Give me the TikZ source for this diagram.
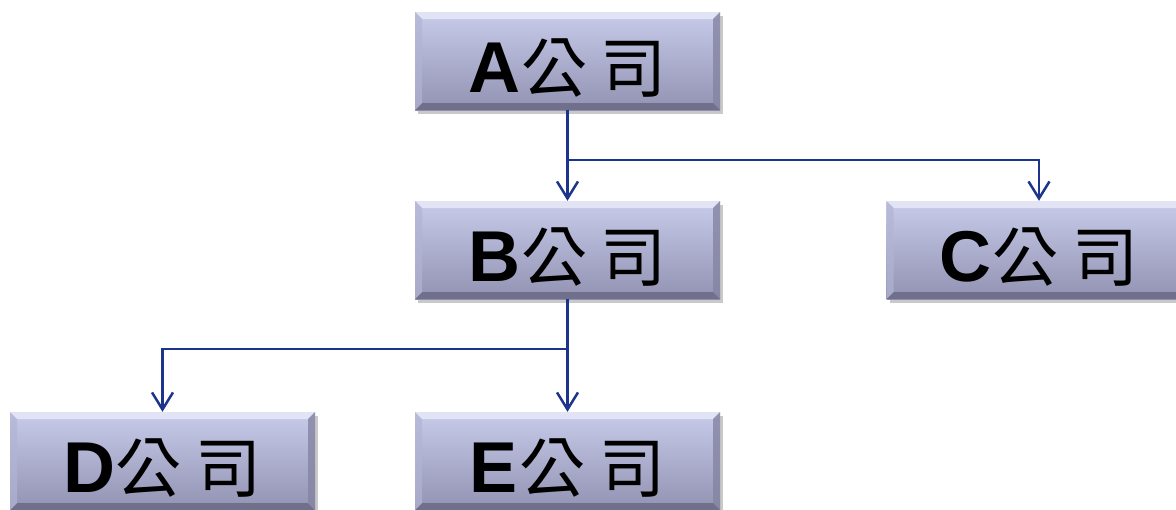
\documentclass[tikz,border=0pt]{standalone}
\usepackage{fontspec}
\setmainfont{Liberation Sans}
\newfontfamily\cjk{Noto Sans CJK TC}
\usetikzlibrary{arrows.meta,shadows}
\definecolor{linkblue}{RGB}{28,52,140}
\definecolor{boxtop}{RGB}{200,203,234}
\definecolor{boxbot}{RGB}{146,146,178}
\definecolor{bevtop}{RGB}{226,228,245}
\definecolor{bevbot}{RGB}{112,112,140}
\definecolor{bevleft}{RGB}{178,180,212}
\definecolor{bevright}{RGB}{132,132,162}
\tikzset{
  company/.style={rectangle, minimum width=305pt, minimum height=98pt, inner sep=0pt,
    text height=62pt, text depth=0pt,
    top color=boxtop, bottom color=boxbot,
    drop shadow={shadow xshift=3pt, shadow yshift=-4pt, opacity=0.3, fill=black!70},
    path picture={
      \path (path picture bounding box.north west) coordinate (pnw)
            (path picture bounding box.north east) coordinate (pne)
            (path picture bounding box.south west) coordinate (psw)
            (path picture bounding box.south east) coordinate (pse);
      \fill[bevtop] (pnw) -- (pne) -- ([shift={(-7pt,-7pt)}]pne) -- ([shift={(7pt,-7pt)}]pnw) -- cycle;
      \fill[bevbot] (psw) -- (pse) -- ([shift={(-7pt,7pt)}]pse) -- ([shift={(7pt,7pt)}]psw) -- cycle;
      \fill[bevleft, opacity=0.7] (pnw) -- ([shift={(7pt,-7pt)}]pnw) -- ([shift={(7pt,7pt)}]psw) -- (psw) -- cycle;
      \fill[bevright, opacity=0.8] (pne) -- ([shift={(-7pt,-7pt)}]pne) -- ([shift={(-7pt,7pt)}]pse) -- (pse) -- cycle;
    }},
  link/.style={draw=linkblue, line width=2.5pt},
  arrowlink/.style={link, -{Straight Barb[length=17pt, width=21pt, line width=2.5pt]}},
}
\newcommand{\cname}[1]{\fontsize{72}{72}\selectfont\bfseries #1\cjk\mdseries\fontsize{66}{66}\selectfont\hspace{1pt}公\hspace{14pt}司\hspace{12pt}}
\begin{document}
\begin{tikzpicture}[x=1pt,y=-1pt]
\useasboundingbox (0,0) rectangle (1176,509);
\clip (0,0) rectangle (1176,509);
\node[company] (A) at (567.5,61) {\cname{A}};
\node[company] (B) at (567.5,250) {\cname{B}};
\node[company] (C) at (1039,250) {\cname{C}};
\node[company] (D) at (162.5,461) {\cname{D}};
\node[company] (E) at (567.5,461) {\cname{E}};
\coordinate (j1) at (567.5,160);
\coordinate (j2) at (567.5,349);
\draw[arrowlink] (A.south) -- (B.north);
\draw[arrowlink] (j1) -| (C.north);
\draw[arrowlink] (B.south) -- (E.north);
\draw[arrowlink] (j2) -| (D.north);
\end{tikzpicture}
\end{document}
